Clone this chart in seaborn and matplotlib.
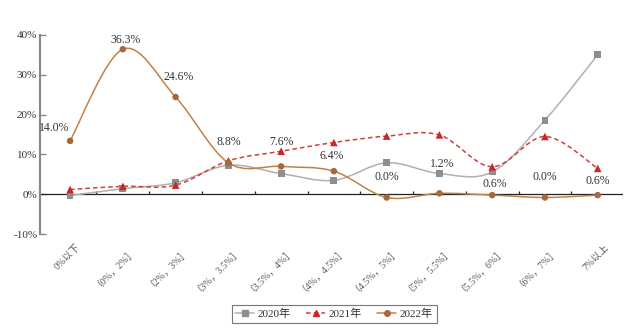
import numpy as np
import pandas as pd
import matplotlib
matplotlib.use("Agg")
import matplotlib.pyplot as plt
import seaborn as sns
from matplotlib.path import Path
from matplotlib.patches import PathPatch
from matplotlib.lines import Line2D

categories = ["0%以下", "（0%，2%］", "（2%，3%］", "（3%，3.5%］", "（3.5%，4%］",
              "（4%，4.5%］", "（4.5%，5%］", "（5%，5.5%］", "（5.5%，6%］",
              "（6%，7%］", "7%以上"]
s2020 = [-0.3, 1.4, 2.9, 7.3, 5.2, 3.5, 7.9, 5.2, 5.6, 18.6, 35.0]
s2021 = [1.2, 2.0, 2.3, 8.4, 10.8, 13.0, 14.6, 14.9, 6.9, 14.5, 6.5]
s2022 = [13.4, 36.4, 24.4, 7.9, 7.0, 5.8, -0.8, 0.25, -0.2, -0.8, -0.2]
labels2022 = ["14.0%", "36.3%", "24.6%", "8.8%", "7.6%", "6.4%",
              "0.0%", "1.2%", "0.6%", "0.0%", "0.6%"]
series_names = ["2020年", "2021年", "2022年"]
yticks = [-10, 0, 10, 20, 30, 40]

# layout: label anchor positions (x shift, y) for annotations
label_dx = [-0.3, 0.05, 0.05, 0.0, 0.0, -0.05, 0.0, 0.05, 0.05, 0.0, 0.0]
label_y = [16.7, 38.8, 29.4, 13.2, 13.2, 9.6, 4.4, 7.5, 2.7, 4.4, 3.3]

sns.set_theme(style="white")
serif = ["Liberation Serif", "Noto Sans CJK SC", "DejaVu Sans"]
plt.rcParams["font.family"] = serif

fig = plt.figure(figsize=(6.4, 3.35), dpi=100)
ax = fig.add_axes([0.0625, 0.301, 0.911, 0.595])

x = np.arange(len(categories))
df = pd.DataFrame({"x": np.tile(x, 3),
                   "v": s2020 + s2021 + s2022,
                   "series": np.repeat(series_names, len(categories))})

styles = {
    "2020年": dict(line="#b0b0b0", mk="#8e8e8e", marker="s", ls="-", ms=24),
    "2021年": dict(line="#d0403a", mk="#c8282a", marker="^", ls=(0, (3, 2)), ms=30),
    "2022年": dict(line="#bf8348", mk="#a8693a", marker="o", ls="-", ms=22),
}


def smooth_path(xs, ys):
    pts = np.column_stack([xs, ys]).astype(float)
    n = len(pts)
    verts = [pts[0]]
    codes = [Path.MOVETO]
    for i in range(n - 1):
        p0 = pts[i - 1] if i > 0 else pts[i]
        p1 = pts[i]
        p2 = pts[i + 1]
        p3 = pts[i + 2] if i + 2 < n else pts[i + 1]
        c1 = p1 + (p2 - p0) / 6.0
        c2 = p2 - (p3 - p1) / 6.0
        verts += [c1, c2, p2]
        codes += [Path.CURVE4] * 3
    return Path(verts, codes)


for name in series_names:
    st = styles[name]
    sub = df[df.series == name]
    patch = PathPatch(smooth_path(sub.x.values, sub.v.values), fill=False,
                      edgecolor=st["line"], lw=1.1, linestyle=st["ls"], zorder=2)
    ax.add_patch(patch)
    sns.scatterplot(data=sub, x="x", y="v", marker=st["marker"], s=st["ms"],
                    color=st["mk"], edgecolor="none", ax=ax, zorder=3, legend=False)

for i, lab in enumerate(labels2022):
    ax.text(x[i] + label_dx[i], label_y[i], lab, ha="center", va="center",
            fontsize=8.5, color="#333333", family=serif)

ax.set_xlim(-0.57, 10.48)
ax.set_ylim(-10, 40)
ax.set_yticks(yticks)
ax.set_yticklabels([f"{t}%" for t in yticks], fontsize=8, color="#333333")
ax.set_xticks(x + 0.12)
ax.set_xticklabels(categories, rotation=45, ha="right", rotation_mode="anchor",
                   fontsize=7, color="#555555")
ax.tick_params(axis="x", length=0, pad=6)
ax.tick_params(axis="y", direction="in", length=4, width=1, color="#888888", left=True, pad=2)
ax.set_xlabel("")
ax.set_ylabel("")
for sp in ["top", "right", "bottom"]:
    ax.spines[sp].set_visible(False)
ax.spines["left"].set_color("#888888")
ax.spines["left"].set_linewidth(1.5)

# zero line with boundary ticks
ax.axhline(0, color="#222222", lw=0.9, zorder=1)
ax.vlines(x + 0.5, 0, 0.8, color="#222222", lw=0.9, zorder=1)

handles = []
for name in series_names:
    st = styles[name]
    handles.append(Line2D([0], [0], color=st["line"], ls=st["ls"], lw=1.1,
                          marker=st["marker"], markersize=4, markerfacecolor=st["mk"],
                          markeredgecolor=st["mk"]))
leg = fig.legend(handles, series_names, loc="center", bbox_to_anchor=(0.522, 0.063),
                 ncol=3, frameon=True, fontsize=8, handlelength=1.7, handletextpad=0.3,
                 columnspacing=1.4, borderpad=0.35, fancybox=False)
leg.get_frame().set_edgecolor("#555555")
leg.get_frame().set_linewidth(0.8)
for t in leg.get_texts():
    t.set_color("#333333")

fig.savefig("out.png", dpi=100, facecolor="white")
